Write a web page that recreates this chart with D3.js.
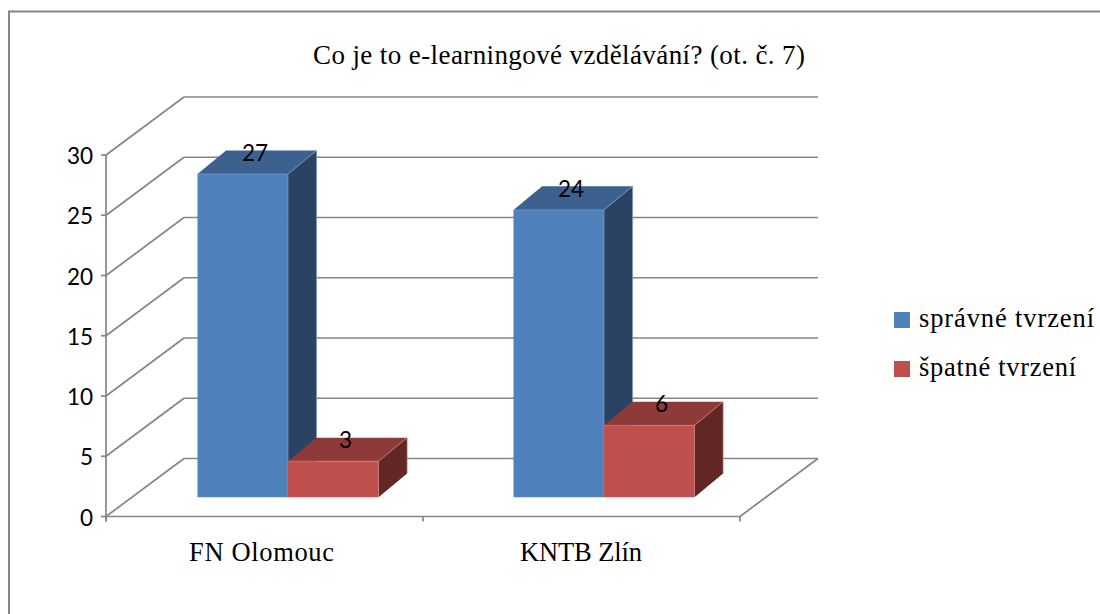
<!DOCTYPE html>
<html><head><meta charset="utf-8">
<script src="https://cdn.jsdelivr.net/npm/d3@7/dist/d3.min.js"></script>
<style>html,body{margin:0;background:#fff}svg{display:block}</style></head>
<body><svg id="c" width="1100" height="614"></svg>
<script>
const titleText = "Co je to e-learningové vzdělávání? (ot. č. 7)";
const categories = ["FN Olomouc", "KNTB Zlín"];
const seriesNames = ["správné tvrzení", "špatné tvrzení"];
const correct = [27, 24];
const wrong = [3, 6];
const yTicks = [0, 5, 10, 15, 20, 25, 30];
const seriesValues = [correct, wrong];
const faceColors = [
  {front:"#4F81BD", top:"#3C618F", side:"#2A4362", edge:"#7F9DC6"},
  {front:"#C0504D", top:"#8E3A38", side:"#622624", edge:"#C98482"}
];

const svg = d3.select("#c");
const grey = "#868686";
const serif = "'Liberation Serif', serif";
const sans = "Lato, sans-serif";

const y = d3.scaleLinear().domain([0,30]).range([516.5,155]);
const yBar = d3.scaleLinear().domain([0,30]).range([516.5,157.4]);
const x0 = d3.scaleBand().domain(categories).range([106,740]);
const barX = d3.scaleBand().domain(categories).range([104,736]);
const x1 = d3.scaleBand().domain(d3.range(2)).range([0,181]);
const groupPad = (barX.bandwidth()-181)/2;
// oblique projection: depth 0 (front) .. 1 (back wall)
const DX = 78, DY = -58;
const px = (x,t) => x + DX*t;
const py = (yy,t) => yy + DY*t;
const barT0 = 0.333, barTx1 = 0.70, barTy1 = 0.74;

// frame (only top and left are visible)
svg.append("path").attr("d","M9,614V11.5H1100").attr("fill","none").attr("stroke",grey).attr("stroke-width",2);

// walls
const g = svg.append("g").attr("fill","none").attr("stroke",grey).attr("stroke-width",1.7);
yTicks.forEach(v=>{
  const yy = y(v);
  g.append("line").attr("x1",x0.range()[0]).attr("y1",yy).attr("x2",px(x0.range()[0],1)).attr("y2",py(yy,1));
  g.append("line").attr("x1",px(x0.range()[0],1)).attr("y1",py(yy,1)).attr("x2",px(x0.range()[1],1)).attr("y2",py(yy,1));
  g.append("line").attr("x1",x0.range()[0]-5).attr("y1",yy).attr("x2",x0.range()[0]).attr("y2",yy);
});
g.append("line").attr("x1",x0.range()[0]).attr("y1",y(30)).attr("x2",x0.range()[0]).attr("y2",y(0)+5);
g.append("line").attr("x1",x0.range()[0]).attr("y1",y(0)).attr("x2",x0.range()[1]).attr("y2",y(0));
g.append("line").attr("x1",x0.range()[1]).attr("y1",y(0)).attr("x2",px(x0.range()[1],1)).attr("y2",py(y(0),1));
[...categories.map(c=>x0(c)), x0.range()[1]].forEach(x=>{
  g.append("line").attr("x1",x).attr("y1",y(0)).attr("x2",x).attr("y2",y(0)+5);
});

// tick labels
svg.append("g").selectAll("text").data(yTicks).join("text")
  .attr("x",93).attr("y",d=>y(d)).attr("dy","0.4em").attr("text-anchor","end")
  .attr("font-family",sans).attr("font-size",22.5).attr("fill","#000").text(d=>d);

// bars
const bars = [];
categories.forEach((c,ci)=>seriesValues.forEach((vals,si)=>{
  bars.push({c,si,v:vals[ci],x:barX(c)+groupPad+x1(si),w:x1.bandwidth()});
}));
const poly = pts => pts.map(p=>p.join(",")).join(" ");
const bg = svg.append("g");
bars.forEach(b=>{
  const col = faceColors[b.si];
  const yb = yBar(0), yt = yBar(b.v);
  const xl = b.x, xr = b.x+b.w;
  const F = (x,yy)=>[px(x,barT0),py(yy,barT0)];
  const B = (x,yy)=>[px(x,barTx1),py(yy,barTy1)];
  bg.append("polygon").attr("points",poly([F(xr,yt),B(xr,yt),B(xr,yb),F(xr,yb)]))
    .attr("fill",col.side);
  bg.append("polygon").attr("points",poly([F(xl,yt),B(xl,yt),B(xr,yt),F(xr,yt)]))
    .attr("fill",col.top);
  bg.append("polygon").attr("points",poly([F(xl,yt),F(xr,yt),F(xr,yb),F(xl,yb)]))
    .attr("fill",col.front);
  bg.append("path").attr("d",d3.line()([F(xl,yt),F(xr,yt),F(xr,yb)]))
    .attr("fill","none").attr("stroke",col.edge).attr("stroke-width",0.7);
  bg.append("path").attr("d",d3.line()([F(xr,yt),B(xr,yt),B(xr,yb)]))
    .attr("fill","none").attr("stroke",col.edge).attr("stroke-width",0.7);
});
// data labels
svg.append("g").selectAll("text").data(bars).join("text")
  .attr("x",b=>px(b.x+b.w/2,(barT0+barTx1)/2)-2).attr("y",b=>py(yBar(b.v),0.71)+8.5)
  .attr("text-anchor","middle").attr("font-family",sans).attr("font-size",22.5).attr("fill","#000")
  .text(b=>b.v);

// title
svg.append("text").attr("x",559).attr("y",64).attr("text-anchor","middle")
  .attr("font-family",serif).attr("font-size",27).attr("fill","#000")
  .attr("textLength",492).attr("lengthAdjust","spacing").text(titleText);

// category labels
const catWidths = [145, 122];
svg.append("g").selectAll("text").data(categories).join("text")
  .attr("x",(c,i)=>i===0?261.5:581).attr("y",561).attr("text-anchor","middle")
  .attr("font-family",serif).attr("font-size",26.5).attr("fill","#000")
  .attr("textLength",(c,i)=>catWidths[i]).attr("lengthAdjust","spacing").text(c=>c);

// legend
const legWidths = [175, 157];
const leg = svg.append("g").selectAll("g").data(seriesNames).join("g")
  .attr("transform",(d,i)=>`translate(894,${312+i*49})`);
leg.append("rect").attr("width",16).attr("height",16).attr("fill",(d,i)=>faceColors[i].front);
leg.append("text").attr("x",25).attr("y",15).attr("font-family",serif).attr("font-size",26.5).attr("fill","#000")
  .attr("textLength",(d,i)=>legWidths[i]).attr("lengthAdjust","spacing").text(d=>d);
</script></body></html>
